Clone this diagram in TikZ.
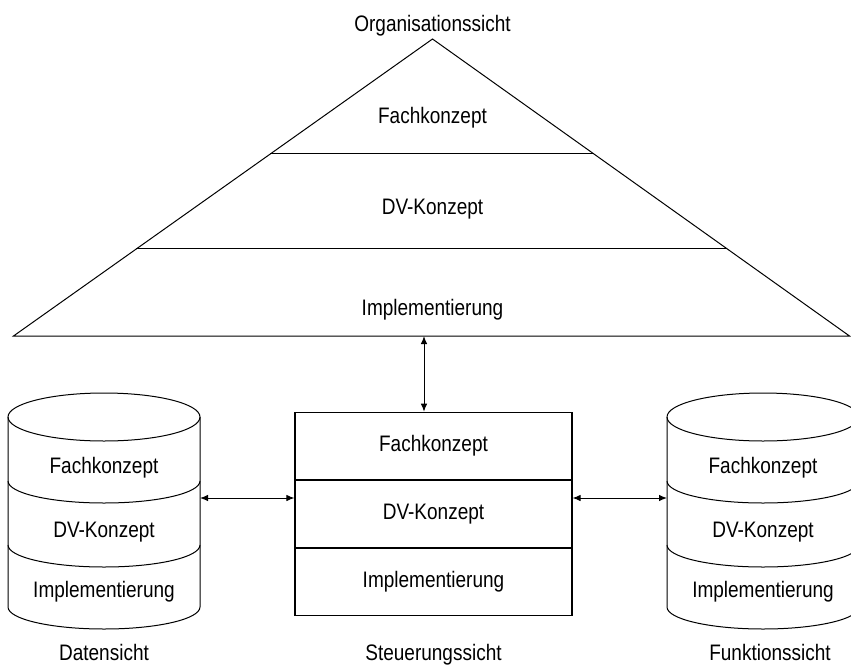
\documentclass[tikz,border=0pt]{standalone}
\usepackage{fontspec}
\setmainfont{Liberation Sans}
\usetikzlibrary{calc,arrows.meta}

% text is set slightly condensed: normal width, stretched height
\newcommand\tallt[1]{\scalebox{1}[1.18]{#1}}

\begin{document}
\begin{tikzpicture}[x=1pt,y=1pt,
  line width=1pt,
  lbl/.style={font=\fontsize{19}{22}\selectfont, inner sep=0pt, anchor=base},
  layer/.style={draw, line width=1.1pt, minimum width=277pt, minimum height=67pt,
                inner sep=0pt, font=\fontsize{19}{22}\selectfont, anchor=north},
  conn/.style={{Latex[length=8pt,width=6.5pt]}-{Latex[length=8pt,width=6.5pt]}, line width=1pt}
]
\useasboundingbox (0,0) rectangle (851,-664);
\clip (0,0) rectangle (851,-664);

% ---------- Organisationssicht: pyramid ----------
\coordinate (apex) at (432.5,-39);
\coordinate (bl) at (13.5,-336);
\coordinate (br) at (849.5,-336);
\draw (apex) -- (bl) -- (br) -- cycle;
\draw ($(apex)!0.387!(bl)$) -- ($(apex)!0.387!(br)$);
\draw ($(apex)!0.707!(bl)$) -- ($(apex)!0.707!(br)$);
\node[lbl] (org)   at (432.5,-31)  {\tallt{Organisationssicht}};
\node[lbl] (orgf)  at (432.5,-123) {\tallt{Fachkonzept}};
\node[lbl] (orgdv) at (432.5,-214) {\tallt{DV-Konzept}};
\node[lbl] (orgi)  at (432.5,-315) {\tallt{Implementierung}};
\coordinate (orgport) at (424,-336);

% ---------- Steuerungssicht: stacked box ----------
\node[layer] (s1) at (433.5,-411.7) {\tallt{Fachkonzept}};
\node[layer] (s2) at (s1.south) {\tallt{DV-Konzept}};
\node[layer] (s3) at (s2.south) {\tallt{Implementierung}};
\node[lbl] (steu) at (433.5,-660) {\tallt{Steuerungssicht}};

% ---------- cylinders ----------
\newcommand\layeredcyl[2]{%
  \draw (#1,-417) ellipse [x radius=96pt, y radius=24pt];
  \draw (#1-96,-417) -- (#1-96,-607)
        arc[start angle=180, end angle=360, x radius=96pt, y radius=22pt]
        -- (#1+96,-417);
  \draw (#1-96,-481) arc[start angle=180, end angle=360, x radius=96pt, y radius=22pt];
  \draw (#1-96,-545) arc[start angle=180, end angle=360, x radius=96pt, y radius=22pt];
  \node[lbl] (#2f)  at (#1,-473) {\tallt{Fachkonzept}};
  \node[lbl] (#2dv) at (#1,-537) {\tallt{DV-Konzept}};
  \node[lbl] (#2i)  at (#1,-597) {\tallt{Implementierung}};
}

% Datensicht
\layeredcyl{104}{dat}
\node[lbl] (dat) at (104,-660) {\tallt{Datensicht}};
\coordinate (datport) at (200,-498);

% Funktionssicht
\layeredcyl{763}{fkt}
\node[lbl] (fkt) at (770,-660) {\tallt{Funktionssicht}};
\coordinate (fktport) at (667,-498);

% ---------- connectors ----------
\draw[conn] (orgport) -- (orgport |- s1.north);
\draw[conn] (datport) -- (datport -| s2.west);
\draw[conn] (fktport -| s2.east) -- (fktport);

\end{tikzpicture}
\end{document}
